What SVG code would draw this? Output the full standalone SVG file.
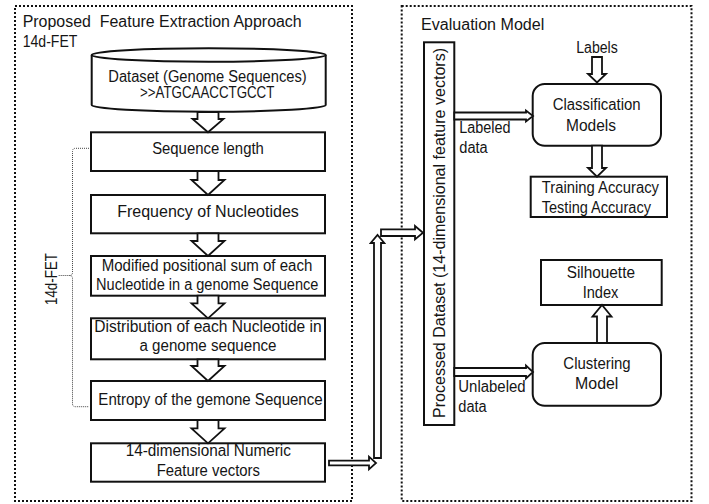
<svg xmlns="http://www.w3.org/2000/svg" width="709" height="504" viewBox="0 0 709 504">
<style>
  .frame{fill:none;stroke:#111;stroke-width:2;stroke-dasharray:2 2}
  .box{fill:#fff;stroke:#111;stroke-width:2}
  .arr{fill:#fff;stroke:#111;stroke-width:1.8;stroke-linejoin:miter}
  .brace{fill:none;stroke:#444;stroke-width:1;stroke-dasharray:1 1}
  text{font-family:"Liberation Sans",Arial,sans-serif;font-size:16px;fill:#151515}
  .c{text-anchor:middle}
</style>
<rect width="709" height="504" fill="#fff"/>

<g id="frame-left">
  <rect class="frame" x="15" y="6" width="337" height="495"/>
  <text x="22.7" y="26.7" textLength="279" lengthAdjust="spacingAndGlyphs" xml:space="preserve">Proposed  Feature Extraction Approach</text>
  <text x="22.7" y="46.7" textLength="54.7" lengthAdjust="spacingAndGlyphs">14d-FET</text>
</g>
<g id="frame-right">
  <rect class="frame" x="401.7" y="6" width="289.8" height="495"/>
  <text x="421" y="30" textLength="123.3" lengthAdjust="spacingAndGlyphs">Evaluation Model</text>
</g>

<g id="dataset">
  <path class="box" d="M91.7,55 A117,6.7 0 0 1 325.7,55 L325.7,105 A117,6.7 0 0 1 91.7,105 Z"/>
  <path class="box" fill="none" d="M91.7,55 A117,6.7 0 0 0 325.7,55"/>
  <text class="c" x="207.5" y="81.7" textLength="198.3" lengthAdjust="spacingAndGlyphs">Dataset (Genome Sequences)</text>
  <text class="c" x="207.2" y="98.3" textLength="134.3" lengthAdjust="spacingAndGlyphs">&gt;&gt;ATGCAACCTGCCT</text>
</g>

<g id="seq-length">
  <rect class="box" x="91" y="132.3" width="234" height="38.7"/>
  <text class="c" x="208" y="154" textLength="111.7" lengthAdjust="spacingAndGlyphs">Sequence length</text>
</g>
<g id="frequency">
  <rect class="box" x="91" y="195" width="234" height="38.3"/>
  <text class="c" x="208" y="217" textLength="181.7" lengthAdjust="spacingAndGlyphs">Frequency of Nucleotides</text>
</g>
<g id="positional-sum">
  <rect class="box" x="91" y="256" width="234" height="39.7"/>
  <text class="c" x="207" y="271.3" textLength="210.7" lengthAdjust="spacingAndGlyphs">Modified positional sum of each</text>
  <text class="c" x="207.2" y="290" textLength="222.3" lengthAdjust="spacingAndGlyphs">Nucleotide in a genome Sequence</text>
</g>
<g id="distribution">
  <rect class="box" x="91" y="318.3" width="234" height="41"/>
  <text class="c" x="208" y="332" textLength="227.4" lengthAdjust="spacingAndGlyphs">Distribution of each Nucleotide in</text>
  <text class="c" x="208" y="351" textLength="137" lengthAdjust="spacingAndGlyphs">a genome sequence</text>
</g>
<g id="entropy">
  <rect class="box" x="91" y="381" width="234" height="39"/>
  <text class="c" x="210.5" y="405" textLength="224.3" lengthAdjust="spacingAndGlyphs">Entropy of the gemone Sequence</text>
</g>
<g id="feature-vectors">
  <rect class="box" x="91" y="443.3" width="234" height="38.4"/>
  <text class="c" x="208.3" y="456" textLength="165.3" lengthAdjust="spacingAndGlyphs">14-dimensional Numeric</text>
  <text class="c" x="208.3" y="476" textLength="103.3" lengthAdjust="spacingAndGlyphs">Feature vectors</text>
</g>

<g id="brace-14dfet">
  <path class="brace" d="M89,148.3 H75.5 Q72.5,148.3 72.5,151.3 V272.5 Q72.5,275.5 69.5,275.5 H58.3 M69.5,275.5 Q72.5,275.5 72.5,278.5 V403.7 Q72.5,406.7 75.5,406.7 H89"/>
  <text class="c" transform="translate(57,279) rotate(-90)" textLength="52" lengthAdjust="spacingAndGlyphs">14d-FET</text>
</g>

<g id="processed-dataset">
  <rect class="box" x="424" y="42.3" width="30.3" height="382.7"/>
  <text class="c" transform="translate(445,233) rotate(-90)" textLength="370" lengthAdjust="spacingAndGlyphs">Processed Dataset (14-dimensional feature vectors)</text>
</g>

<g id="labels">
  <text class="c" x="597" y="53" textLength="41.7" lengthAdjust="spacingAndGlyphs">Labels</text>
</g>
<g id="classification">
  <rect class="box" x="532.7" y="84" width="128.3" height="61.7" rx="12" ry="12"/>
  <text class="c" x="596.7" y="110" textLength="88" lengthAdjust="spacingAndGlyphs">Classification</text>
  <text class="c" x="591" y="131" textLength="50" lengthAdjust="spacingAndGlyphs">Models</text>
</g>
<g id="accuracy">
  <rect class="box" x="530.7" y="176.7" width="136.3" height="40.3"/>
  <text x="541.7" y="192.5" textLength="117.3" lengthAdjust="spacingAndGlyphs">Training Accuracy</text>
  <text x="541.7" y="212.5" textLength="109.3" lengthAdjust="spacingAndGlyphs">Testing Accuracy</text>
</g>
<g id="silhouette">
  <rect class="box" x="541" y="260" width="120.7" height="45"/>
  <text class="c" x="600.8" y="278" textLength="68.3" lengthAdjust="spacingAndGlyphs">Silhouette</text>
  <text class="c" x="600.5" y="297.5" textLength="35.7" lengthAdjust="spacingAndGlyphs">Index</text>
</g>
<g id="clustering">
  <rect class="box" x="532.7" y="343" width="128.3" height="62.7" rx="12" ry="12"/>
  <text class="c" x="597" y="369" textLength="67.3" lengthAdjust="spacingAndGlyphs">Clustering</text>
  <text class="c" x="596.7" y="389" textLength="43.3" lengthAdjust="spacingAndGlyphs">Model</text>
</g>
<g id="edge-labels">
  <text x="459.3" y="133" textLength="51.3" lengthAdjust="spacingAndGlyphs">Labeled</text>
  <text x="459.3" y="153" textLength="28.4" lengthAdjust="spacingAndGlyphs">data</text>
  <text x="458.3" y="391.5" textLength="67.3" lengthAdjust="spacingAndGlyphs">Unlabeled</text>
  <text x="458.3" y="411.5" textLength="28.4" lengthAdjust="spacingAndGlyphs">data</text>
</g>

<g id="connectors">
  <path class="arr" d="M197.5,112 H218.5 V119 H223.5 L208,132.3 L192.5,119 H197.5 Z"/>
  <path class="arr" d="M197.5,171 H218.5 V180 H224.5 L208,195 L191.5,180 H197.5 Z"/>
  <path class="arr" d="M197.5,233.3 H218.5 V241 H224.5 L208,256 L191.5,241 H197.5 Z"/>
  <path class="arr" d="M197.5,295.7 H218.5 V303.3 H224.5 L208,318.3 L191.5,303.3 H197.5 Z"/>
  <path class="arr" d="M197.5,359.3 H218.5 V366 H224.5 L208,381 L191.5,366 H197.5 Z"/>
  <path class="arr" d="M197.5,420 H218.5 V428.3 H224.5 L208,443.3 L191.5,428.3 H197.5 Z"/>
  <path class="arr" d="M329,460.7 H369 V456.7 L376,463 L369,469.3 V465.3 H329 Z"/>
  <path class="arr" d="M374,458 V243 H370.7 L377.5,235 L384.3,243 H381 V458 Z"/>
  <path class="arr" d="M381,229.3 H415 V226 L423,232.7 L415,239.4 V236 H381 Z"/>
  <path class="arr" d="M592,57 H602 V74 H606 L597,82.5 L588,74 H592 Z"/>
  <path class="arr" d="M454.3,112.5 H526 V110.5 L533,116 L526,121.5 V119.5 H454.3 Z"/>
  <path class="arr" d="M592,145.7 H602 V168 H606 L597,176.7 L588,168 H592 Z"/>
  <path class="arr" d="M454.3,368 H526 V365.5 L533,372 L526,378.5 V376 H454.3 Z"/>
  <path class="arr" d="M597,343 V316.5 H592.5 L602,305 L611.5,316.5 H607 V343 Z"/>
</g>
</svg>
